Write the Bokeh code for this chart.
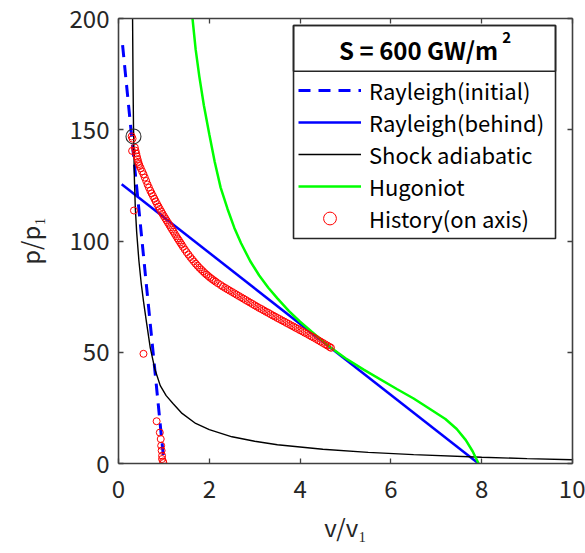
from bokeh.plotting import figure
from bokeh.models import (Range1d, FixedTicker, LinearAxis, Label, Legend,
                          LegendItem, BoxAnnotation)
from bokeh.embed import file_html
from bokeh.resources import INLINE

FONT = "Noto Sans CJK JP"

# ---------------- data ----------------
x_ticks = [0, 2, 4, 6, 8, 10]
y_ticks = [0, 50, 100, 150, 200]

rayleigh_init_v = [0.09, 1.0]
rayleigh_init_p = [188, 1]

rayleigh_behind_v = [0.07, 7.93]
rayleigh_behind_p = [125.5, 0]

shock_v = [0.31, 0.32, 0.33, 0.35, 0.37, 0.40, 0.45, 0.50, 0.55, 0.62, 0.70,
           0.80, 0.92, 1.05, 1.2, 1.4, 1.7, 2.0, 2.5, 3.0, 3.5, 4.5, 5.5,
           6.5, 8.0, 9.0, 10.0]
shock_p = [200, 172, 152, 128, 115, 104, 91, 81, 73, 63, 52,
           42.5, 35, 30.5, 27, 22.5, 18, 15.2, 12, 10, 8.4, 6.4, 5,
           4, 2.8, 2.2, 1.7]

hugoniot_v = [1.63, 1.70, 1.78, 1.88, 2.00, 2.12, 2.25, 2.40, 2.55, 2.70,
              2.90, 3.10, 3.30, 3.50, 3.75, 4.00, 4.25, 4.50, 4.68,
              5.0, 5.4, 6.13, 6.5, 6.86, 7.2, 7.45, 7.65, 7.8, 7.93]
hugoniot_p = [200, 186, 174, 161, 148, 135.5, 124, 114.5, 106, 99,
              91, 84.5, 79, 74.2, 68.6, 63.7, 59.3, 55.0, 52.0,
              47.3, 42.2, 33.5, 29.2, 24.5, 20, 15.5, 10.5, 5.5, 0]

history_v = [0.99, 0.98, 0.96, 0.96, 0.95, 0.94, 0.93, 0.91, 0.84, 0.55,
             0.34, 0.30, 0.29, 0.31,
             0.36, 0.375, 0.39, 0.405, 0.42, 0.435, 0.45, 0.465,
             0.49, 0.52, 0.55, 0.58, 0.61, 0.64, 0.67, 0.70, 0.73, 0.76,
             0.79, 0.82, 0.85, 0.88, 0.91, 0.94, 0.97, 1.00,
             1.03, 1.06, 1.09, 1.12, 1.15, 1.18, 1.21, 1.24, 1.27, 1.30,
             1.33, 1.36, 1.39, 1.42,
             1.46, 1.50, 1.54, 1.58, 1.62, 1.66, 1.70, 1.74, 1.78, 1.82,
             1.86, 1.90, 1.94, 1.98, 2.02, 2.06, 2.10, 2.14,
             2.19, 2.25, 2.30, 2.35, 2.40, 2.45, 2.50, 2.55, 2.60, 2.65,
             2.70, 2.75, 2.80, 2.85, 2.90, 2.95, 3.00, 3.05, 3.10, 3.15,
             3.20, 3.25, 3.30, 3.35, 3.40, 3.45, 3.50, 3.55, 3.60, 3.65,
             3.70, 3.75, 3.80, 3.85, 3.90, 3.95, 4.00, 4.05, 4.10, 4.15,
             4.20, 4.25, 4.30, 4.35, 4.40, 4.45, 4.50, 4.55, 4.60, 4.65,
             4.68]
history_p = [0.2, 0.9, 2.0, 3.5, 5.8, 8.0, 11.0, 13.9, 19.0, 49.3,
             113.7, 140.5, 147.0, 146.0,
             142.0, 140.6, 139.3, 138.0, 136.8, 135.6, 134.6, 133.7,
             132.7, 131.3, 130.0, 128.5, 127.0, 125.4, 124.0, 122.6, 121.4, 120.2,
             119.0, 117.8, 116.6, 115.5, 114.4, 113.3, 112.2, 111.2,
             110.2, 109.2, 108.2, 107.2, 106.2, 105.2, 104.2, 103.2, 102.2, 101.2,
             100.3, 99.3, 98.4, 97.4,
             96.2, 95.0, 93.9, 92.8, 91.8, 90.8, 89.8, 88.9, 88.0, 87.2,
             86.4, 85.6, 84.9, 84.2, 83.5, 82.9, 82.3, 81.7,
             81.0, 80.2, 79.5, 78.9, 78.3, 77.7, 77.1, 76.5, 75.9, 75.3,
             74.7, 74.1, 73.5, 72.9, 72.3, 71.7, 71.1, 70.5, 69.9, 69.4,
             68.8, 68.2, 67.7, 67.1, 66.5, 66.0, 65.4, 64.9, 64.3, 63.8,
             63.2, 62.7, 62.1, 61.6, 61.0, 60.5, 59.9, 59.4, 58.8, 58.3,
             57.7, 57.1, 56.6, 56.0, 55.4, 54.8, 54.2, 53.6, 53.0, 52.4,
             52.0]

current_v = [0.33]
current_p = [147]

legend_title = "S = 600 GW/m"
legend_title_sup = "2"
legend_labels = ["Rayleigh(initial)", "Rayleigh(behind)", "Shock adiabatic",
                 "Hugoniot", "History(on axis)"]
x_label = "v/v\u2081"
y_label = "p/p\u2081"

# ---------------- figure ----------------
p = figure(frame_width=454, frame_height=445,
           min_border_left=118, min_border_right=13,
           min_border_top=18, min_border_bottom=87,
           x_range=Range1d(0, 10), y_range=Range1d(0, 200),
           output_backend="svg", toolbar_location=None,
           background_fill_color="white", border_fill_color="white")
p.outline_line_color = None
p.grid.visible = False

top_axis = LinearAxis()
right_axis = LinearAxis()
p.add_layout(top_axis, "above")
p.add_layout(right_axis, "right")

x_axis = p.below[0]
y_axis = p.left[0]

AX = "#404040"
for ax, tk in [(x_axis, x_ticks), (top_axis, x_ticks),
               (y_axis, y_ticks), (right_axis, y_ticks)]:
    ax.ticker = FixedTicker(ticks=tk)
    ax.axis_line_color = AX
    ax.axis_line_width = 1.6
    ax.major_tick_line_color = AX
    ax.major_tick_line_width = 1.3
    ax.major_tick_in = 5
    ax.major_tick_out = 0
    ax.minor_tick_line_color = None
    ax.major_label_text_font = FONT
    ax.major_label_text_font_size = "24px"
    ax.major_label_text_color = "#262626"
    ax.axis_label_text_font = FONT
    ax.axis_label_text_font_size = "24px"
    ax.axis_label_text_font_style = "normal"
    ax.axis_label_text_color = "#262626"

for ax in (top_axis, right_axis):
    ax.major_label_text_color = None
    ax.major_label_text_font_size = "1px"
    ax.major_label_standoff = 0

x_axis.major_label_standoff = 16
y_axis.major_label_standoff = 9
x_axis.axis_label = x_label
y_axis.axis_label = y_label
x_axis.axis_label_standoff = 8
y_axis.axis_label_standoff = 20

# ---------------- data glyphs ----------------
r_init = p.line(rayleigh_init_v, rayleigh_init_p, line_color="#0000FF",
                line_width=3, line_dash="12 8")
r_behind = p.line(rayleigh_behind_v, rayleigh_behind_p, line_color="#0000FF",
                  line_width=2.5)
r_shock = p.line(shock_v, shock_p, line_color="#000000", line_width=1.4)
r_hug = p.line(hugoniot_v, hugoniot_p, line_color="#00FF00", line_width=2.5)
r_hist = p.scatter(history_v, history_p, marker="circle", size=7,
                   fill_color=None, line_color="#FF0000", line_width=1)
p.scatter(current_v, current_p, marker="circle", size=15, fill_color=None,
          line_color="#303030", line_width=1.1)

# ---------------- legend ----------------
box = BoxAnnotation(left=3.855, right=9.626, top=196.85, bottom=101.1,
                    fill_color="white", fill_alpha=1.0,
                    line_color="#262626", line_width=1.6, line_alpha=1.0)
title_box = BoxAnnotation(left=3.855, right=9.626, top=196.85, bottom=176.3,
                          fill_color=None, fill_alpha=0,
                          line_color="#262626", line_width=1.6, line_alpha=1.0)
p.add_layout(box)
p.add_layout(title_box)

p.add_layout(Label(x=6.61, y=186.1, text=legend_title, text_font=FONT,
                   text_font_size="24px", text_font_style="bold",
                   text_align="center", text_baseline="middle",
                   text_color="#000000"))
p.add_layout(Label(x=8.55, y=191.6, text=legend_title_sup, text_font=FONT,
                   text_font_size="15px", text_font_style="bold",
                   text_align="center", text_baseline="middle",
                   text_color="#000000"))

legend = Legend(items=[LegendItem(label=lab, renderers=[r]) for lab, r in
                       zip(legend_labels, [r_init, r_behind, r_shock, r_hug, r_hist])],
                location=(180, 229), orientation="vertical",
                glyph_width=63, glyph_height=32, label_height=32,
                spacing=0, padding=0, margin=0, label_standoff=8,
                border_line_color=None, background_fill_alpha=0,
                label_text_font=FONT, label_text_font_size="22px",
                label_text_color="#000000", click_policy="none")
p.add_layout(legend)

open("out.html", "w").write(file_html(p, INLINE))
